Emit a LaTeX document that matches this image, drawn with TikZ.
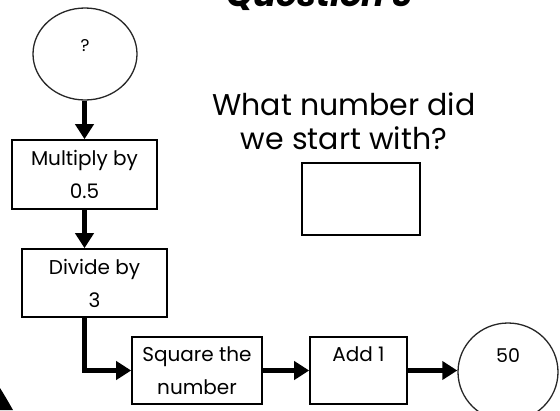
\documentclass[tikz,border=0pt]{standalone}
\usepackage{fontspec}
\setmainfont{Poppins}
\usetikzlibrary{arrows.meta}
\tikzset{
  opbox/.style={draw=black, line width=1.6pt, rectangle, inner sep=0pt, align=center,
    font=\fontsize{20}{33}\selectfont},
  endcirc/.style={draw=black!85, line width=1.3pt, ellipse, inner sep=0pt},
  flow/.style={line width=4.6pt, -{Triangle[length=15pt,width=18pt]}},
  qtext/.style={font=\fontsize{30}{34}\selectfont, align=center},
  ansbox/.style={draw=black, line width=1.8pt, rectangle, inner sep=0pt}
}
\usetikzlibrary{shapes.geometric}
\begin{document}
\begin{tikzpicture}[x=1pt,y=-1pt]
\useasboundingbox (0,0) rectangle (560,410);
\clip (0,0) rectangle (560,410);
\fill[white] (0,0) rectangle (560,410);
% cut-off title
\node[anchor=base, font=\fontsize{34}{34}\selectfont\bfseries\itshape] (title) at (320,6) {Question 3};
% corner of the dark frame
\fill[black] (0,388) .. controls (5,396) and (9,403) .. (13,410) -- (0,410) -- cycle;
% start circle
\node[endcirc, minimum width=104pt, minimum height=92pt,
  label={[font=\fontsize{17}{17}\selectfont, yshift=8pt]center:?}] (start) at (85,54) {};
% boxes
\node[opbox, minimum width=145pt, minimum height=69pt] (mult) at (84.5,174.5) {Multiply by\\0.5};
\node[opbox, minimum width=145pt, minimum height=68pt] (div) at (94.5,283) {Divide by\\3};
\node[opbox, minimum width=130pt, minimum height=67pt] (sq) at (197,370.5) {Square the\\number};
\node[opbox, minimum width=97pt, minimum height=67pt] (add) at (358.5,370.5) {Add 1\\\phantom{x}};
\node[endcirc, minimum width=100pt, minimum height=98pt,
  label={[font=\fontsize{19}{19}\selectfont, yshift=16pt]center:50}] (end) at (508,372) {};
% question
\node[qtext] (q) at (344,121) {What number did\\we start with?};
\node[ansbox, minimum width=118pt, minimum height=72pt] (ans) at (361,199) {};
% connectors
\draw[flow] (start.south -| mult.north) -- (mult.north);
\draw[flow] (mult.south) -- (mult.south |- div.north);
\draw[flow] (div.south -| mult.south) |- (sq.west);
\draw[flow] (sq.east) -- (add.west);
\draw[flow] (add.east) -- (add.east -| end.west);
\end{tikzpicture}
\end{document}
